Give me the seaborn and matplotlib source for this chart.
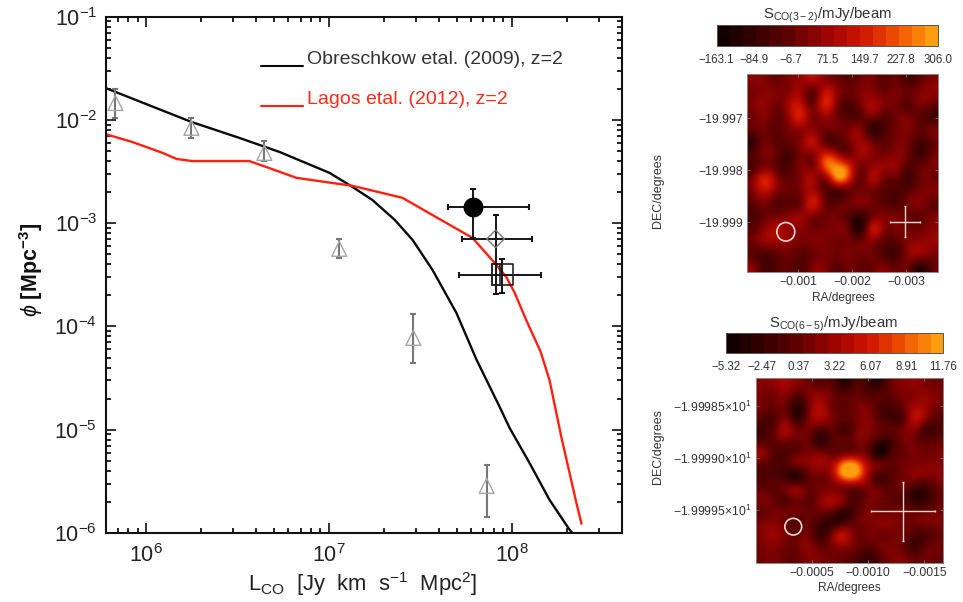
import numpy as np
import matplotlib
matplotlib.use("Agg")
import matplotlib.pyplot as plt
import seaborn as sns
from matplotlib.colors import LinearSegmentedColormap, Normalize
from matplotlib.cm import ScalarMappable
from matplotlib.patches import Ellipse, Rectangle
from matplotlib.ticker import LogLocator, NullFormatter, FixedLocator, FixedFormatter

# ---------- data ----------
obres_L = [6e5, 1.77e6, 3.24e6, 5.37e6, 1.01e7, 1.35e7, 1.73e7, 2.29e7, 2.87e7, 3.69e7, 4.99e7,
           6.43e7, 8.59e7, 9.75e7, 1.25e8, 1.61e8, 2.07e8, 2.15e8]
obres_phi = [2.04e-2, 9.57e-3, 6.7e-3, 4.9e-3, 3.07e-3, 2.24e-3, 1.68e-3, 1.08e-3, 6.9e-4, 3.53e-4, 1.35e-4,
             4.75e-5, 1.67e-5, 1.04e-5, 4.8e-6, 2.1e-6, 1.08e-6, 1e-6]
lagos_L = [6e5, 8.41e5, 1.23e6, 1.47e6, 1.79e6, 3.67e6, 4.55e6, 6.65e6, 1.35e7, 2.53e7, 3.69e7, 6.11e7,
           8.26e7, 9.36e7, 1.04e8, 1.2e8, 1.44e8, 1.61e8, 1.87e8, 2.26e8, 2.41e8]
lagos_phi = [7.3e-3, 6.12e-3, 4.8e-3, 4.19e-3, 4.0e-3, 4.0e-3, 3.5e-3, 2.75e-3, 2.3e-3, 1.76e-3, 1.2e-3, 7.2e-4,
             3.94e-4, 3.0e-4, 2.11e-4, 1.16e-4, 5.7e-5, 3.04e-5, 8.5e-6, 1.96e-6, 1.23e-6]

tri_L = [6.8e5, 1.77e6, 4.44e6, 1.14e7, 2.9e7, 7.3e7]
tri_phi = [1.46e-2, 8.4e-3, 4.8e-3, 5.65e-4, 7.76e-5, 2.86e-6]
tri_hi = [2.0e-2, 1.04e-2, 6.27e-3, 7.05e-4, 1.32e-4, 4.57e-6]
tri_lo = [1.04e-2, 6.7e-3, 4.0e-3, 4.6e-4, 4.44e-5, 1.44e-6]

circ = dict(x=6.18e7, y=1.44e-3, xlo=4.46e7, xhi=1.25e8, ylo=7.2e-4, yhi=2.15e-3)
diam = dict(x=8.17e7, y=7.05e-4, xlo=5.38e7, xhi=1.30e8, ylo=2.07e-4, yhi=1.2e-3)
squa = dict(x=8.91e7, y=3.16e-4, xlo=5.12e7, xhi=1.44e8, ylo=2.11e-4, yhi=4.52e-4)

cbar1_labels = ["\u2212163.1", "\u221284.9", "\u22126.7", "71.5", "149.7", "227.8", "306.0"]
cbar2_labels = ["\u22125.32", "\u22122.47", "0.37", "3.22", "6.07", "8.91", "11.76"]
cbar1_ticks = [-163.1, -84.9, -6.7, 71.5, 149.7, 227.8, 306.0]
cbar2_ticks = [-5.32, -2.47, 0.37, 3.22, 6.07, 8.91, 11.76]

map1 = [
 [40,30,0,30,60,90,50,10,-20,10,20,-20,0,-60,-10,30],
 [20,40,30,40,70,-20,120,60,0,30,40,10,20,0,30,50],
 [30,50,10,80,120,10,150,40,-50,10,80,30,10,-20,20,-10],
 [10,30,-10,60,150,30,60,10,-30,-20,10,-30,10,20,-20,-60],
 [-10,10,-20,20,50,50,10,10,20,40,-90,-50,10,30,-10,10],
 [-90,10,-20,-10,40,110,0,-40,10,70,10,-20,20,10,-60,-10],
 [-40,20,-10,-60,20,40,150,100,20,70,40,20,40,0,-70,0],
 [-40,30,-20,-50,30,30,200,290,190,20,60,60,50,-30,-10,20],
 [40,160,50,-10,30,80,30,240,170,0,80,10,-10,-70,0,10],
 [30,110,30,0,20,90,-20,-50,-10,10,10,-30,-50,-20,20,30],
 [-20,20,-30,-20,10,140,10,-20,10,30,10,-20,-40,10,30,-10],
 [-50,0,20,40,60,30,10,10,-40,-90,10,30,20,0,-10,20],
 [-20,50,90,60,40,10,20,30,-10,-110,110,40,20,10,10,40],
 [10,60,70,50,20,30,30,10,10,0,40,-20,-20,30,50,60],
 [-20,-40,-10,10,-20,0,20,10,20,10,10,-50,-60,40,60,30],
 [30,-60,-40,-10,-40,20,30,-20,10,-10,0,20,-10,0,-90,-20],
]
map2 = [
 [2,2.5,3.5,2,1,0,-0.5,-3.5,-1,-2,-3,0.5,2,2.5,1.5,1],
 [1.5,1,2,-0.5,1.5,2.5,1,-0.5,0.5,-0.5,-0.5,0,1.5,2,2.5,1.5],
 [1,0.5,0.5,-3.5,1,4,1,0,1,1.5,-1,-1.5,0.5,3.5,3,1],
 [-0.5,-1,1.5,-2.5,1.5,3.5,1.5,0,1,2,-0.5,-2,-0.5,4.5,2,-0.5],
 [-2,0,3.5,1,1,-1,0,-1.5,1,2,0.5,0,1,2,-1.5,-1.5],
 [-0.5,0,1,0.5,0.5,-3,-0.5,0,1,1,-2.5,-2,1,1,0,0.5],
 [2.5,-0.5,-1,0.5,1.5,1.5,0.5,1.5,2,0.5,-4.5,-1.5,0.5,1.5,1,1.5],
 [0,-1,-1,1,2,3,4,11,11,4,1,0,1,1.5,2,2],
 [-1,-1,-2,-3.5,0,1,3.5,10.5,10.5,3.5,-1.5,-0.5,1,2,1.5,2],
 [0,0,1,2,0.5,1,1.5,1.5,1,1.5,0.5,0,0.5,-2,-2,0.5],
 [1.5,0.5,-0.5,1,0,2,3.5,1.5,-1,1,1,0,-1,-3,-2.5,0],
 [0.5,1,1,1,0.5,1,0,-2.5,-1,1.5,1,1,1,0,0.5,1],
 [1.5,2,0.5,-0.5,0.5,-2,-3,-1.5,0.5,1.5,2,2,1,1,1.5,1.5],
 [2,3,1.5,0.5,1,-2.5,1.5,4.5,1,1,1,1,1,-1,-1,0.5],
 [1.5,2,1,1,2,0,1.5,2.5,1,0,1,1.5,0.5,-2,0,1],
 [1,1.5,0.5,0.5,2,1.5,1,0.5,-1,-2.5,-0.5,1.5,1.5,0,1,0.5],
]

# ---------- style ----------
sns.set_theme(style="ticks")
plt.rcParams.update({
    "font.family": ["Liberation Sans", "DejaVu Sans"],
    "mathtext.fontset": "custom",
    "mathtext.rm": "Liberation Sans",
    "mathtext.it": "Liberation Sans:italic",
    "mathtext.bf": "Liberation Sans:bold",
    "mathtext.default": "regular",
})
W, H = 963, 602
fig = plt.figure(figsize=(W / 100, H / 100), dpi=100, facecolor="white")

def axpx(l, t, r, b):
    return fig.add_axes([l / W, 1 - b / H, (r - l) / W, (b - t) / H])

def tpx(x, y, s, **kw):
    kw.setdefault("ha", "center")
    kw.setdefault("va", "center")
    return fig.text(x / W, 1 - y / H, s, **kw)

# ---------- main panel ----------
ax = axpx(105.5, 16.7, 621.7, 533)
ax.set_xscale("log"); ax.set_yscale("log")
sns.lineplot(x=obres_L, y=obres_phi, ax=ax, color="#0a0a0a", lw=1.7, sort=False, errorbar=None, estimator=None)
sns.lineplot(x=lagos_L, y=lagos_phi, ax=ax, color="#ff2010", lw=1.7, sort=False, errorbar=None, estimator=None)
ax.set_xlim(6e5, 4e8); ax.set_ylim(1e-6, 1e-1)

ax.errorbar(tri_L, tri_phi, yerr=[np.array(tri_phi) - np.array(tri_lo), np.array(tri_hi) - np.array(tri_phi)],
            fmt="none", ecolor="#777777", elinewidth=1.5, capsize=2.5, capthick=1.5, zorder=3)
sns.scatterplot(x=tri_L, y=tri_phi, ax=ax, marker="^", s=115, facecolor="none", edgecolor="#a5a5a5", linewidth=1.0, zorder=3)

for p in (circ, diam, squa):
    ax.errorbar([p["x"]], [p["y"]], xerr=[[p["x"] - p["xlo"]], [p["xhi"] - p["x"]]],
                yerr=[[p["y"] - p["ylo"]], [p["yhi"] - p["y"]]], fmt="none", ecolor="#151515",
                elinewidth=1.4, capsize=2.5, capthick=1.5, zorder=4)
sns.scatterplot(x=[circ["x"]], y=[circ["y"]], ax=ax, marker="o", s=205, color="black", linewidth=0, zorder=5)
sns.scatterplot(x=[diam["x"]], y=[diam["y"]], ax=ax, marker="D", s=80, facecolor="none", edgecolor="#777777", linewidth=1.0, zorder=5)
sns.scatterplot(x=[squa["x"]], y=[squa["y"]], ax=ax, marker="s", s=228, facecolor="none", edgecolor="#222222", linewidth=1.2, zorder=5)
ax.add_patch(Rectangle((7.83e7, 2.53e-4), 8.69e7 - 7.83e7, 4.03e-4 - 2.53e-4, fill=False, ec="#222222", lw=1.2, zorder=5))

for s in ax.spines.values():
    s.set_linewidth(1.5); s.set_color("#111111"); s.set_visible(True)
ax.xaxis.set_major_locator(LogLocator(base=10, numticks=10))
ax.yaxis.set_major_locator(LogLocator(base=10, numticks=10))
ax.xaxis.set_minor_locator(LogLocator(base=10, subs=np.arange(2, 10) * 0.1, numticks=12))
ax.yaxis.set_minor_locator(LogLocator(base=10, subs=np.arange(2, 10) * 0.1, numticks=12))
ax.xaxis.set_minor_formatter(NullFormatter()); ax.yaxis.set_minor_formatter(NullFormatter())
ax.tick_params(which="major", direction="in", length=7.5, width=1.3, top=True, right=True,
               labelsize=15.5, colors="#222222", pad=8)
ax.tick_params(which="minor", direction="in", length=3.5, width=1.3, top=True, right=True, color="#111111")
ax.tick_params(axis="y", which="major", pad=6)

tpx(31, 270, r"$\mathit{\phi}$ [Mpc$^{-3}$]", rotation=90, fontsize=15.5, color="#111111", fontweight="bold")
tpx(363, 584, r"L$_{CO}$  [Jy  km  s$^{-1}$  Mpc$^{2}$]", fontsize=15.8, color="#222222")

# legend
for y, c in ((65.5, "#0a0a0a"), (106, "#ff2010")):
    fig.add_artist(plt.Line2D([261 / W, 303 / W], [1 - y / H, 1 - y / H], color=c, lw=1.5))
tpx(307, 59, "Obreschkow etal. (2009), z=2", ha="left", fontsize=14, color="#333333")
tpx(307, 100, "Lagos etal. (2012), z=2", ha="left", fontsize=14, color="#ff2a1a")

# ---------- maps ----------
cmap = LinearSegmentedColormap.from_list("idl", [
    (0.0, "#120000"), (0.33, "#620000"), (0.5, "#9e0400"),
    (0.67, "#d01400"), (0.83, "#ee5000"), (1.0, "#ff9c10")], N=256)
band = cmap.resampled(17)

def panel(data, box, cbox, ext, cticks, clabels, title, title_xy, xticks, xlabels, yticks, ylabels,
          xlab_xy, ylab_xy, circle, cross):
    a = axpx(*box)
    a.imshow(np.array(data, float), cmap=cmap, vmin=cticks[0], vmax=cticks[-1], extent=ext,
             aspect="auto", interpolation="lanczos", origin="upper")
    a.set_xlim(ext[0], ext[1]); a.set_ylim(ext[2], ext[3])
    a.xaxis.set_major_locator(FixedLocator(xticks)); a.xaxis.set_major_formatter(FixedFormatter(xlabels))
    a.yaxis.set_major_locator(FixedLocator(yticks)); a.yaxis.set_major_formatter(FixedFormatter(ylabels))
    a.tick_params(direction="in", length=2, width=0.6, top=True, right=True, labelsize=8.8,
                  color="#777777", labelcolor="#333333", pad=3)
    for s in a.spines.values():
        s.set_linewidth(0.7); s.set_color("#888888")
    lc = "#ecd8d0"
    a.add_patch(Ellipse(circle[:2], circle[2], circle[3], transform=a.transAxes, fill=False, ec=lc, lw=1.2))
    a.errorbar([cross[0]], [cross[1]], xerr=[cross[2]], yerr=[cross[3]], fmt="none", ecolor=lc,
               elinewidth=1.0, capsize=1, capthick=1, transform=a.transAxes)
    a.set_xlim(ext[0], ext[1]); a.set_ylim(ext[2], ext[3])
    c = axpx(*cbox)
    cb = fig.colorbar(ScalarMappable(Normalize(cticks[0], cticks[-1]), band), cax=c, orientation="horizontal")
    cb.set_ticks(cticks); cb.set_ticklabels(clabels)
    cb.ax.tick_params(length=0, labelsize=8.3, labelcolor="#333333", pad=6)
    cb.outline.set_linewidth(0.7); cb.outline.set_edgecolor("#555555")
    tpx(*title_xy, title, fontsize=10.8, color="#333333")
    tpx(*xlab_xy, "RA/degrees", fontsize=8.6, color="#333333")
    tpx(*ylab_xy, "DEC/degrees", fontsize=9, color="#333333", rotation=90)
    return a

panel(map1, (747.3, 74, 938, 272), (716.7, 25, 938, 46), [-0.00006, -0.00359, -19.99996, -19.99615],
      cbar1_ticks, cbar1_labels, r"S$_{CO(3-2)}$/mJy/beam", (827, 15),
      [-0.001, -0.002, -0.003], ["\u22120.001", "\u22120.002", "\u22120.003"],
      [-19.999, -19.998, -19.997], ["\u221219.999", "\u221219.998", "\u221219.997"],
      (843, 298), (658, 190), (0.202, 0.203, 0.094, 0.094), (0.826, 0.255, 0.078, 0.076))

panel(map2, (756, 378.3, 943.3, 563.3), (725.7, 333.3, 943.3, 352.7), [0.0, -0.00167, -20.00001, -19.99823],
      cbar2_ticks, cbar2_labels, r"S$_{CO(6-5)}$/mJy/beam", (833, 324),
      [-0.0005, -0.0010, -0.0015], ["\u22120.0005", "\u22120.0010", "\u22120.0015"],
      [-19.9995, -19.9990, -19.9985],
      ["\u22121.99995\u00d710$^{1}$", "\u22121.99990\u00d710$^{1}$", "\u22121.99985\u00d710$^{1}$"],
      (849, 588), (658, 447), (0.199, 0.198, 0.09, 0.09), (0.783, 0.28, 0.171, 0.162))

fig.savefig("out.png", dpi=100, facecolor="white")
